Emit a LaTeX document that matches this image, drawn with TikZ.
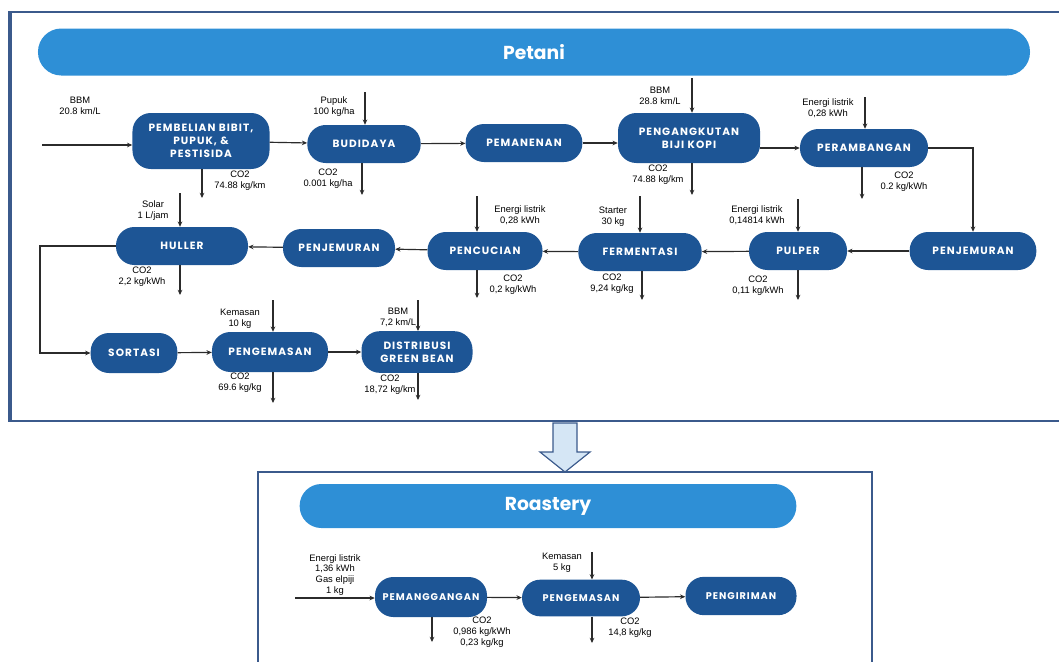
\documentclass[tikz,border=0pt]{standalone}
\usepackage{fontspec}
\setmainfont{Liberation Sans}
\newfontfamily\boxfont[LetterSpace=10]{Poppins}
\newfontfamily\headfont{Poppins}
\usetikzlibrary{arrows.meta}
\definecolor{procblue}{HTML}{1D5595}
\definecolor{headblue}{HTML}{2E8FD6}
\definecolor{framecol}{HTML}{3B5A8C}
\definecolor{linecol}{HTML}{2B2B2B}
\definecolor{arrowfill}{HTML}{D5E6F5}
\tikzset{
  proc/.style={fill=procblue, text=white, rounded corners=0.55cm, align=center,
    inner sep=2pt, minimum height=1.14cm, font=\boxfont\bfseries\fontsize{9}{11}\selectfont},
  roastproc/.style={proc, font=\boxfont\bfseries\fontsize{8.3}{10}\selectfont},
  head/.style={fill=headblue, text=white, font=\headfont\bfseries\fontsize{16}{18}\selectfont},
  note/.style={align=center, inner sep=1pt, font=\fontsize{8}{9.3}\selectfont},
  flow/.style={draw=linecol, line width=1pt, -{Stealth[length=4.5pt,width=4pt]}},
}
\begin{document}
\begin{tikzpicture}[x=0.03cm,y=-0.03cm]
  \useasboundingbox (0,0) rectangle (1059,661);
  \draw[framecol, line width=2.2pt] (1070,12) -- (11,12) -- (11,421) -- (1070,421);
  \draw[framecol, line width=3.5pt] (10,11) -- (10,422);
  \draw[framecol, line width=2pt] (258,670) -- (258,472) -- (872,472) -- (872,670);
  \draw[fill=arrowfill, draw=framecol, line width=1pt]
    (553,423) -- (577,423) -- (577,452) -- (590,452) -- (565,472) -- (540,452) -- (553,452) -- cycle;

  \node[head, rounded corners=0.7cm, minimum width=29.76cm, minimum height=1.41cm] (petani) at (534,52) {Petani};
  \node[head, rounded corners=0.65cm, minimum width=14.9cm, minimum height=1.32cm] (roastery) at (548,506) {Roastery};

  \node[proc, minimum width=4.11cm, minimum height=1.68cm] (pembelian) at (201,141) {PEMBELIAN BIBIT,\\PUPUK, \&\\PESTISIDA};
  \node[proc, minimum width=3.4cm] (budidaya) at (364,144) {BUDIDAYA};
  \node[proc, minimum width=3.5cm] (panen) at (524,143) {PEMANENAN};
  \node[proc, minimum width=4.26cm, minimum height=1.5cm] (angkut) at (689,138) {PENGANGKUTAN\\BIJI KOPI};
  \node[proc, minimum width=3.84cm] (rambang) at (864,148) {PERAMBANGAN};

  \node[proc, minimum width=3.96cm] (huller) at (182,246) {HULLER};
  \node[proc, minimum width=3.36cm] (jemur1) at (339,248) {PENJEMURAN};
  \node[proc, minimum width=3.45cm] (cuci) at (485,251) {PENCUCIAN};
  \node[proc, minimum width=3.7cm] (fermentasi) at (640,252) {FERMENTASI};
  \node[proc, minimum width=2.94cm] (pulper) at (798,251) {PULPER};
  \node[proc, minimum width=3.8cm] (jemur2) at (973,251) {PENJEMURAN};

  \node[proc, minimum width=2.6cm, minimum height=1.2cm] (sortasi) at (134,353) {SORTASI};
  \node[proc, minimum width=3.48cm, minimum height=1.2cm] (kemas1) at (270,352) {PENGEMASAN};
  \node[proc, minimum width=3.33cm, minimum height=1.25cm] (distribusi) at (417,352) {DISTRIBUSI\\GREEN BEAN};

  \node[roastproc, minimum width=3.36cm, minimum height=1.2cm] (sangrai) at (431,597) {PEMANGGANGAN};
  \node[roastproc, minimum width=3.54cm, minimum height=1.1cm] (kemas2) at (581,598) {PENGEMASAN};
  \node[roastproc, minimum width=3.33cm, minimum height=1.15cm] (kirim) at (741,596) {PENGIRIMAN};

  \foreach \a/\b in {pembelian/budidaya, budidaya/panen,
      jemur2/pulper, pulper/fermentasi, fermentasi/cuci, cuci/jemur1, jemur1/huller,
      sortasi/kemas1, kemas1/distribusi, sangrai/kemas2, kemas2/kirim}
    \draw[flow] (\a) -- (\b);
  \draw[flow] (panen) -- (panen -| angkut.west);
  \draw[flow] (rambang.west -| angkut.east) -- (rambang.west);
  \draw[flow] (rambang.east) -| (jemur2.north);
  \coordinate (belok) at (40,246);
  \draw[flow] (huller.west) -- (belok) |- (sortasi.west);

  % masukan dan emisi
  \coordinate (bbm1) at (42,145);
  \draw[flow] (bbm1) -- (bbm1 -| pembelian.west);
  \coordinate (energi) at (295,598);
  \draw[flow] (energi) -- (energi -| sangrai.west);
  \foreach \c/\x/\y/\nd in {pupuk/365/92/budidaya, bbm2/692/78/angkut, listrik1/865/97/rambang,
      listrik2/798/199/pulper, starter/640/196/fermentasi, listrik3/477/196/cuci,
      solar/180/193/huller, kemasan1/273/300/kemas1, bbm3/418/300/distribusi,
      kemasan2/592/552/kemas2}
    {\coordinate (\c) at (\x,\y); \draw[flow] (\c) -- (\c |- \nd.north);}
  \foreach \c/\x/\y/\nd in {emisi1/202/198/pembelian, emisi2/362/195/budidaya, emisi3/692/195/angkut,
      emisi4/862/199/rambang, emisi5/798/300/pulper, emisi6/642/300/fermentasi,
      emisi7/477/298/cuci, emisi8/180/295/huller, emisi9/273/403/kemas1,
      emisi10/418/400/distribusi, emisi11/432/642/sangrai, emisi12/592/643/kemas2}
    {\coordinate (\c) at (\x,\y); \draw[flow] (\c |- \nd.south) -- (\c);}

  \node[note] (bbm1-txt) at (80,106) {BBM\\20.8 km/L};
  \node[note] (pupuk-txt) at (334,107) {Pupuk\\100 kg/ha};
  \node[note] (emisi1-txt) at (240,181) {CO2\\74.88 kg/km};
  \node[note] (emisi2-txt) at (328,179) {CO2\\0.001 kg/ha};
  \node[note] (bbm2-txt) at (660,96) {BBM\\28.8 km/L};
  \node[note] (emisi3-txt) at (658,175) {CO2\\74.88 kg/km};
  \node[note] (listrik1-txt) at (828,108) {Energi listrik\\0,28 kWh};
  \node[note] (emisi4-txt) at (904,182) {CO2\\0.2 kg/kWh};
  \node[note] (listrik2-txt) at (757,215) {Energi listrik\\0,14814 kWh};
  \node[note] (emisi5-txt) at (758,286) {CO2\\0,11 kg/kWh};
  \node[note] (starter-txt) at (613,217) {Starter\\30 kg};
  \node[note] (emisi6-txt) at (612,284) {CO2\\9,24 kg/kg};
  \node[note] (listrik3-txt) at (520,215) {Energi listrik\\0,28 kWh};
  \node[note] (emisi7-txt) at (513,285) {CO2\\0,2 kg/kWh};
  \node[note] (solar-txt) at (153,211) {Solar\\1 L/jam};
  \node[note] (emisi8-txt) at (142,277) {CO2\\2,2 kg/kWh};
  \node[note] (kemasan1-txt) at (240,319) {Kemasan\\10 kg};
  \node[note] (emisi9-txt) at (240,383) {CO2\\69.6 kg/kg};
  \node[note] (bbm3-txt) at (398,317) {BBM\\7,2 km/L};
  \node[note] (emisi10-txt) at (390,385) {CO2\\18,72 kg/km};
  \node[note] (energi-txt) at (335,575) {Energi listrik\\1,36 kWh\\Gas elpiji\\1 kg};
  \node[note] (emisi11-txt) at (482,632) {CO2\\0,986 kg/kWh\\0,23 kg/kg};
  \node[note] (kemasan2-txt) at (562,563) {Kemasan\\5 kg};
  \node[note] (emisi12-txt) at (630,628) {CO2\\14,8 kg/kg};
\end{tikzpicture}
\end{document}
